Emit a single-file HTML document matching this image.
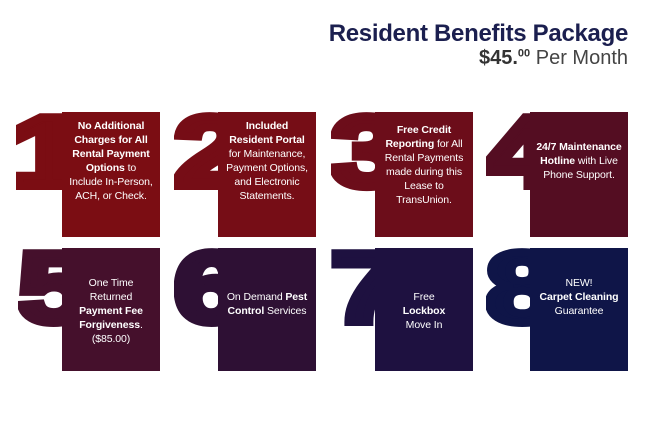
<!DOCTYPE html>
<html><head><meta charset="utf-8"><style>
body{margin:0;width:650px;height:434px;background:#fff;position:relative;overflow:hidden;font-family:"Liberation Sans",sans-serif;}
.t{position:absolute;right:22px;top:20px;font-size:24px;font-weight:bold;color:#1b1f4f;letter-spacing:-0.3px}
.p{position:absolute;right:22px;top:47px;font-size:20px;color:#444}
.p b{color:#333}
.p sup{font-size:11px;font-weight:bold;}
.pan{position:absolute;width:98px;}
.nc{position:absolute;width:70px;height:100px;overflow:hidden}
.num{position:absolute;left:0px;top:-10px;font-size:100px;font-weight:bold;line-height:1;transform:scaleX(1.3);transform-origin:left top;-webkit-text-stroke:8px currentColor}
.tx{position:absolute;width:86px;text-align:center;color:#fff;font-size:10.5px;line-height:14px;letter-spacing:-0.1px}
</style></head><body>
<div class="t">Resident Benefits Package</div>
<div class="p"><b>$45.<sup>00</sup></b> Per Month</div>

<div class="nc" style="left:16px;top:112px"><div class="num" style="color:#7b0d13;left:-6px">1</div></div>
<div class="pan" style="left:62px;top:112px;height:125px;background:#7b0d13"></div>
<div class="tx" style="left:68px;top:119px"><b>No Additional Charges for All Rental Payment Options</b> to Include In-Person, ACH, or Check.</div>

<div class="nc" style="left:174px;top:112px"><div class="num" style="color:#760d16">2</div></div>
<div class="pan" style="left:218px;top:112px;height:125px;background:#760d16"></div>
<div class="tx" style="left:224px;top:119px"><b>Included Resident Portal</b> for Maintenance, Payment Options, and Electronic Statements.</div>

<div class="nc" style="left:331px;top:112px"><div class="num" style="color:#6c0d1a">3</div></div>
<div class="pan" style="left:375px;top:112px;height:125px;background:#6c0d1a"></div>
<div class="tx" style="left:381px;top:123px"><b>Free Credit Reporting</b> for All Rental Payments made during this Lease to TransUnion.</div>

<div class="nc" style="left:486px;top:112px"><div class="num" style="color:#540d22">4</div></div>
<div class="pan" style="left:530px;top:112px;height:125px;background:#540d22"></div>
<div class="tx" style="left:536px;top:140px"><b>24/7 Maintenance Hotline</b> with Live Phone Support.</div>

<div class="nc" style="left:18px;top:248px"><div class="num" style="color:#45102c">5</div></div>
<div class="pan" style="left:62px;top:248px;height:123px;background:#45102c"></div>
<div class="tx" style="left:68px;top:276px">One Time Returned <b>Payment Fee Forgiveness</b>. ($85.00)</div>

<div class="nc" style="left:174px;top:248px"><div class="num" style="color:#2e1034">6</div></div>
<div class="pan" style="left:218px;top:248px;height:123px;background:#2e1034"></div>
<div class="tx" style="left:224px;top:290px">On Demand <b>Pest Control</b> Services</div>

<div class="nc" style="left:331px;top:248px"><div class="num" style="color:#1e1140">7</div></div>
<div class="pan" style="left:375px;top:248px;height:123px;background:#1e1140"></div>
<div class="tx" style="left:381px;top:290px">Free<br><b>Lockbox</b><br>Move In</div>

<div class="nc" style="left:486px;top:248px"><div class="num" style="color:#0f1548">8</div></div>
<div class="pan" style="left:530px;top:248px;height:123px;background:#0f1548"></div>
<div class="tx" style="left:536px;top:276px">NEW!<br><b>Carpet Cleaning</b><br>Guarantee</div>
</body></html>
